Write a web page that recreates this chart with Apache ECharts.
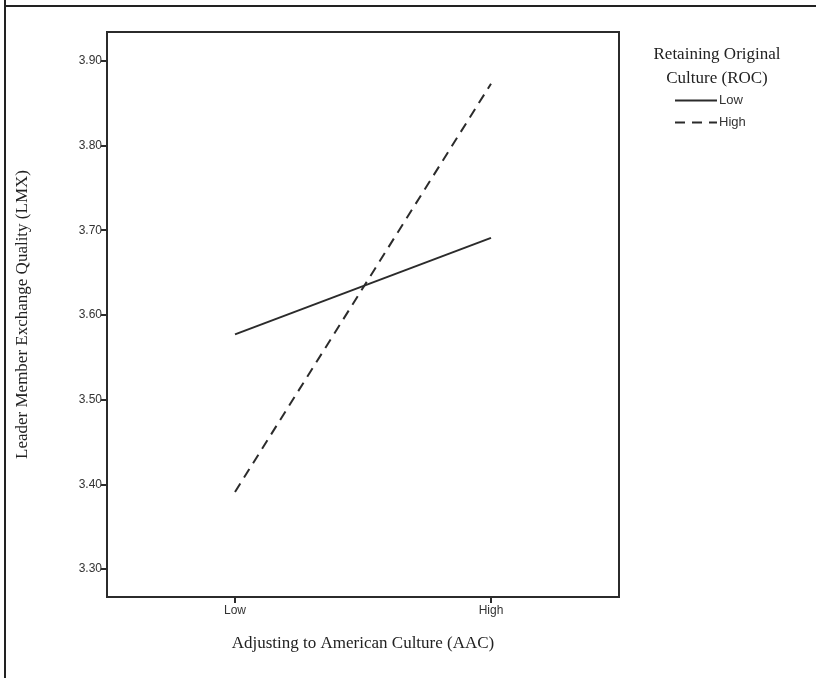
<!DOCTYPE html>
<html>
<head>
<meta charset="utf-8">
<script src="https://cdn.jsdelivr.net/npm/echarts@6/dist/echarts.min.js"></script>
<style>html,body{margin:0;padding:0;background:#fff;}#c{width:816px;height:678px;}</style>
</head>
<body>
<div id="c"></div>
<script>
const categories = ['Low', 'High'];
const rocLow = [3.577, 3.691];
const rocHigh = [3.391, 3.873];
const yTicks = [3.30, 3.40, 3.50, 3.60, 3.70, 3.80, 3.90];

const chart = echarts.init(document.getElementById('c'));
const ink = '#2b2b2b';
chart.setOption({
  animation: false,
  backgroundColor: '#fff',
  grid: { left: 107, right: 197, top: 32, bottom: 81, show: true, borderColor: ink, borderWidth: 2, backgroundColor: 'transparent' },
  xAxis: {
    type: 'category', data: categories, boundaryGap: true,
    name: 'Adjusting to American Culture (AAC)', nameLocation: 'middle', nameGap: 38,
    nameTextStyle: { fontFamily: 'Liberation Serif', fontSize: 17, color: '#222' },
    axisLine: { lineStyle: { color: ink, width: 2 } },
    axisTick: { show: true, alignWithLabel: true, length: 6, lineStyle: { color: ink, width: 2 } },
    axisLabel: { fontFamily: 'Liberation Sans', fontSize: 12, color: '#333', margin: 8 },
    splitLine: { show: false }
  },
  yAxis: {
    type: 'value', min: 3.267, max: 3.934,
    name: 'Leader Member Exchange Quality (LMX)', nameLocation: 'middle', nameGap: 76,
    nameTextStyle: { fontFamily: 'Liberation Serif', fontSize: 17, color: '#222' },
    axisLine: { show: true, lineStyle: { color: ink, width: 2 } },
    axisTick: { show: true, length: 6, customValues: yTicks, lineStyle: { color: ink, width: 2 } },
    axisLabel: { fontFamily: 'Liberation Sans', fontSize: 12, color: '#333', margin: 5,
      customValues: yTicks, formatter: v => v.toFixed(2) },
    splitLine: { show: false }
  },
  legend: {
    orient: 'vertical', left: 669, top: 89, itemWidth: 42, itemHeight: 14, itemGap: 9,
    itemStyle: { opacity: 0 },
    textStyle: { fontFamily: 'Liberation Sans', fontSize: 13, color: '#333', padding: [0, 0, 0, -3] },
    data: ['Low', 'High']
  },
  title: {
    text: 'Retaining Original\nCulture (ROC)', left: 712, top: 38, textAlign: 'center',
    textStyle: { fontFamily: 'Liberation Serif', fontSize: 17, fontWeight: 'normal', color: '#222', lineHeight: 24 }
  },
  graphic: [
    { type: 'line', shape: { x1: 5, y1: 0, x2: 5, y2: 678 }, style: { stroke: '#222', lineWidth: 2 } },
    { type: 'line', shape: { x1: 5, y1: 6, x2: 816, y2: 6 }, style: { stroke: '#222', lineWidth: 2 } }
  ],
  series: [
    { name: 'Low', type: 'line', data: rocLow, symbol: 'none', lineStyle: { color: ink, width: 2, type: 'solid' }, itemStyle: { color: ink } },
    { name: 'High', type: 'line', data: rocHigh, symbol: 'none', lineStyle: { color: ink, width: 2, type: [10, 7] }, itemStyle: { color: ink } }
  ]
});
</script>
</body>
</html>
